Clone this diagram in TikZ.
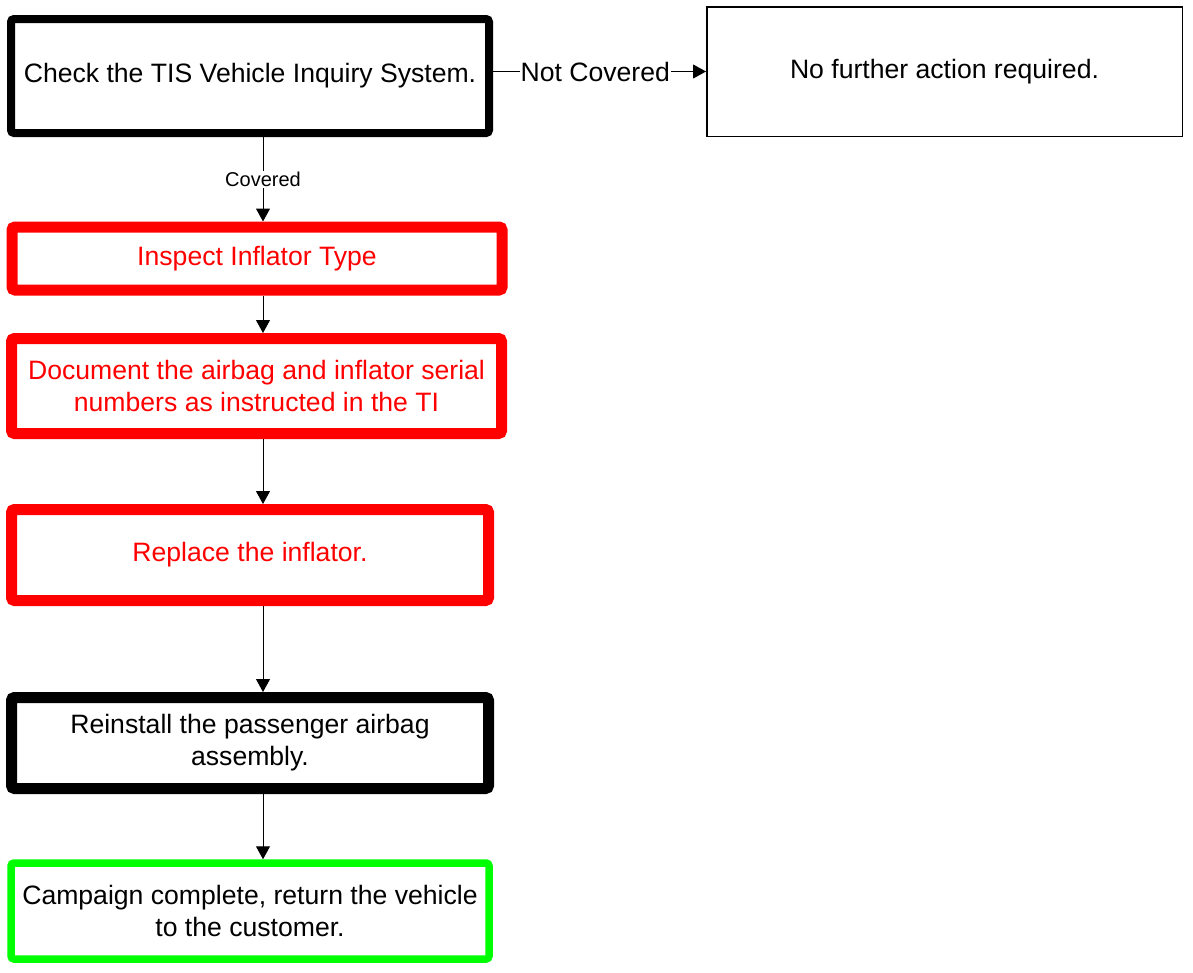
\documentclass[tikz,border=0pt]{standalone}
\usepackage{fontspec}
\setmainfont{Liberation Sans}
\usetikzlibrary{arrows.meta}
\definecolor{vred}{RGB}{255,0,0}
\definecolor{vgreen}{RGB}{0,255,0}
\begin{document}
\begin{tikzpicture}[x=1pt,y=-1pt,
  box/.style={draw, rectangle, rounded corners=3pt, fill=white, align=center,
    inner sep=0pt, font=\fontsize{26.6}{31.8}\selectfont},
  thickblack/.style={box, draw=black, line width=8pt, outer sep=4pt},
  heavyblack/.style={box, draw=black, line width=11pt, outer sep=5.5pt},
  redbox/.style={box, draw=vred, text=vred, line width=11pt, outer sep=5.5pt},
  greenbox/.style={box, draw=vgreen, line width=7.5pt, outer sep=3.75pt},
  thinbox/.style={box, rounded corners=0pt, draw=black, line width=1.5pt, outer sep=0.75pt},
  conn/.style={draw=black, line width=1pt, -{Triangle[width=14pt,length=13pt]}},
  lbl/.style={fill=white, inner sep=1pt, text=black},
  biglbl/.style={lbl, font=\fontsize{26.6}{31.8}\selectfont},
  smalllbl/.style={lbl, font=\fontsize{20}{24}\selectfont}]
\useasboundingbox (0,0) rectangle (1193,972);
\coordinate (spine) at (263,0);

\node[thickblack, minimum width=478pt, minimum height=114pt] (b1) at (250,76)
  {Check the TIS Vehicle Inquiry System.};
\node[thinbox, minimum width=475.5pt, minimum height=129.5pt] (nf) at (944.5,71.5)
  {No further action required.};
\node[redbox, minimum width=490pt, minimum height=63pt] (b2) at (257,258.5)
  {Inspect Inflator Type};
\node[redbox, minimum width=490pt, minimum height=95pt] (b3) at (256.5,386)
  {Document the airbag and inflator serial\\numbers as instructed in the TI};
\node[redbox, minimum width=477pt, minimum height=91pt] (b4) at (250,555)
  {Replace the inflator.};
\node[heavyblack, minimum width=477pt, minimum height=91pt] (b5) at (250,743)
  {Reinstall the passenger airbag\\assembly.};
\node[greenbox, minimum width=478pt, minimum height=96pt] (b6) at (250,911)
  {Campaign complete, return the vehicle\\to the customer.};

\draw[conn] (nf.west -| b1.east) -- node[biglbl, pos=0.48] {Not Covered} (nf.west);
\draw[conn] (b1.south -| spine) -- node[smalllbl] {Covered} (b2.north -| spine);
\draw[conn] (b2.south -| spine) -- (b3.north -| spine);
\draw[conn] (b3.south -| spine) -- (b4.north -| spine);
\draw[conn] (b4.south -| spine) -- (b5.north -| spine);
\draw[conn] (b5.south -| spine) -- (b6.north -| spine);
\end{tikzpicture}
\end{document}
